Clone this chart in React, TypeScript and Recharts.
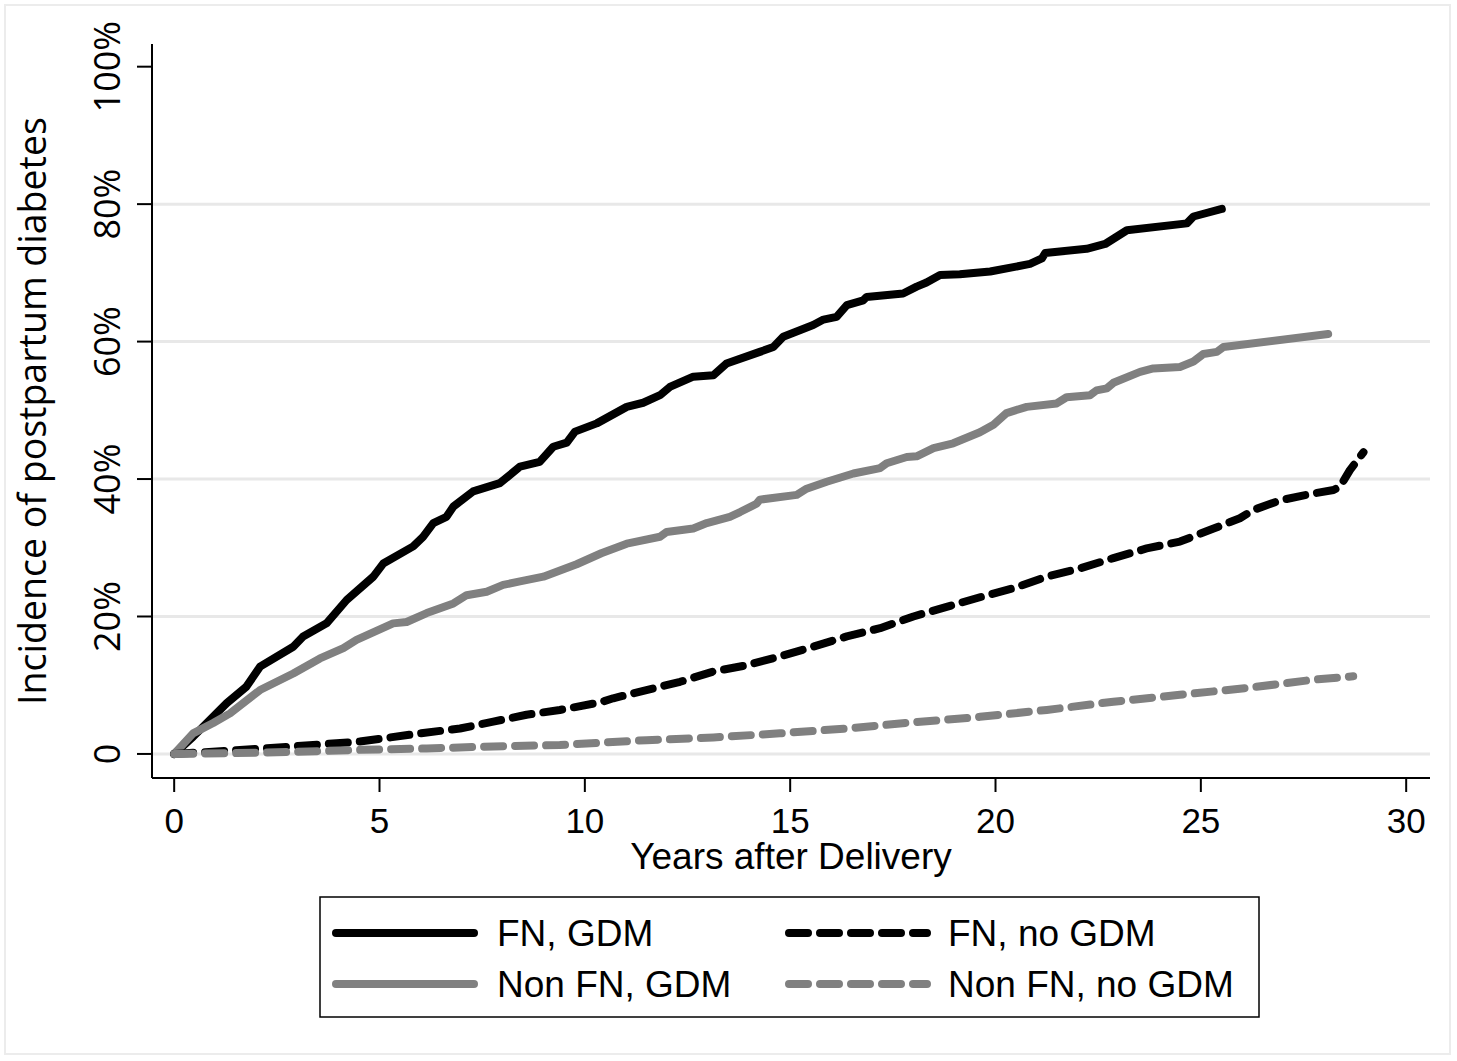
import { LineChart, Line, XAxis, YAxis, CartesianGrid } from 'recharts';

// years after delivery / cumulative incidence (%)
const fnGdmYears = [0, 0.46, 1.28, 1.76, 2.09, 2.9, 3.14, 3.71, 4.2, 4.85, 5.09, 5.82, 6.06, 6.31, 6.63, 6.8, 7.28, 7.93, 8.42, 8.9, 9.23, 9.56, 9.76, 10.29, 11.02, 11.42, 11.83, 12.07, 12.64, 13.13, 13.45, 14.26, 14.59, 14.83, 15.56, 15.81, 16.13, 16.38, 16.78, 16.86, 17.75, 18.08, 18.32, 18.65, 19.13, 19.87, 20.84, 21.13, 21.21, 22.22, 22.67, 23.2, 24.66, 24.82, 25.51];
const fnGdmPct = [0, 2.5, 7.4, 9.8, 12.7, 15.6, 17.1, 19, 22.4, 25.8, 27.7, 30.2, 31.6, 33.6, 34.5, 36, 38.2, 39.4, 41.8, 42.5, 44.7, 45.3, 46.9, 48.1, 50.5, 51.1, 52.2, 53.4, 54.9, 55.1, 56.8, 58.5, 59.2, 60.7, 62.4, 63.2, 63.6, 65.3, 66, 66.5, 67, 68, 68.6, 69.7, 69.8, 70.2, 71.3, 72.1, 72.9, 73.5, 74.2, 76.2, 77.2, 78.2, 79.3];

const nonFnGdmYears = [0, 0.46, 0.95, 1.36, 2.09, 2.9, 3.55, 4.12, 4.44, 5.33, 5.66, 6.15, 6.8, 7.12, 7.61, 8.01, 8.42, 8.99, 9.8, 10.4, 11.02, 11.83, 11.99, 12.64, 12.97, 13.53, 13.78, 14.18, 14.26, 15.16, 15.4, 15.89, 16.54, 17.19, 17.35, 17.84, 18.08, 18.49, 18.97, 19.62, 19.95, 20.27, 20.76, 21.49, 21.73, 22.3, 22.46, 22.71, 22.87, 23.52, 23.84, 24.49, 24.82, 25.06, 25.39, 25.55, 28.1];
const nonFnGdmPct = [0, 3, 4.5, 5.9, 9.3, 11.7, 13.9, 15.4, 16.6, 19, 19.2, 20.5, 21.9, 23.1, 23.6, 24.6, 25.1, 25.8, 27.6, 29.2, 30.6, 31.6, 32.3, 32.8, 33.6, 34.5, 35.2, 36.4, 37, 37.7, 38.6, 39.6, 40.8, 41.6, 42.3, 43.2, 43.3, 44.5, 45.2, 46.8, 47.9, 49.6, 50.5, 51, 51.9, 52.2, 52.9, 53.2, 54, 55.6, 56.1, 56.3, 57.1, 58.2, 58.5, 59.2, 61.1];

const fnNoGdmYears = [0, 1.44, 2.9, 4.52, 5.98, 6.96, 7.77, 8.58, 9.39, 10.37, 10.69, 11.5, 12.32, 13.13, 13.94, 14.75, 15.56, 16.38, 17.19, 18, 18.81, 19.62, 20.43, 21.25, 22.06, 22.87, 23.68, 24.49, 25.31, 25.95, 26.28, 26.93, 27.74, 28.23, 28.39, 28.63, 28.96];
const fnNoGdmPct = [0, 0.5, 1.1, 1.8, 3, 3.7, 4.7, 5.7, 6.4, 7.5, 8.1, 9.3, 10.5, 12, 12.9, 14.2, 15.6, 17.1, 18.3, 20, 21.4, 22.8, 24.1, 25.8, 27, 28.5, 29.9, 30.9, 32.8, 34.3, 35.5, 36.9, 37.9, 38.4, 38.9, 41.3, 43.9];

const nonFnNoGdmYears = [0, 1.28, 2.9, 4.52, 6.15, 7.77, 9.39, 11.5, 13.13, 14.75, 16.38, 18, 19.62, 21.25, 22.87, 24.49, 26.12, 27.74, 28.71];
const nonFnNoGdmPct = [0, 0.1, 0.3, 0.6, 0.8, 1.1, 1.3, 2, 2.4, 3, 3.7, 4.6, 5.4, 6.4, 7.6, 8.6, 9.6, 10.8, 11.3];

const xTicks = [0, 5, 10, 15, 20, 25, 30];
const yTicks = [0, 20, 40, 60, 80, 100];
const gridValues = [0, 20, 40, 60, 80];

const toRows = (years: number[], pct: number[]) => years.map((t, i) => ({ t, v: pct[i] }));

const series = [
  { name: 'FN, GDM', data: toRows(fnGdmYears, fnGdmPct), color: '#000000', dash: undefined },
  { name: 'Non FN, GDM', data: toRows(nonFnGdmYears, nonFnGdmPct), color: '#808080', dash: undefined },
  { name: 'FN, no GDM', data: toRows(fnNoGdmYears, fnNoGdmPct), color: '#000000', dash: '19 12' },
  { name: 'Non FN, no GDM', data: toRows(nonFnNoGdmYears, nonFnNoGdmPct), color: '#808080', dash: '19 12' },
];

const ARIAL = '"Liberation Sans", Arial, sans-serif';
const OPEN = '"Open Sans", "Noto Sans", sans-serif';

const YTick = ({ x, y, payload }: any) => (
  <text
    x={x}
    y={y}
    transform={`rotate(-90, ${x}, ${y})`}
    textAnchor="middle"
    fontFamily={OPEN}
    fontSize={36}
    fill="#000"
  >
    {payload.value === 0 ? '0' : `${payload.value}%`}
  </text>
);

const YTitle = ({ viewBox }: any) => {
  const cy = viewBox.y + viewBox.height / 2;
  return (
    <text x={46} y={cy} transform={`rotate(-90, 46, ${cy})`} textAnchor="middle" fontFamily={OPEN} fontSize={37.5} fill="#000">
      Incidence of postpartum diabetes
    </text>
  );
};

const XTitle = ({ viewBox }: any) => (
  <text x={viewBox.x + viewBox.width / 2} y={869} textAnchor="middle" fontFamily={ARIAL} fontSize={37} fill="#000">
    Years after Delivery
  </text>
);

function LegendBox() {
  const rows = [
    [series[0], series[2]],
    [series[1], series[3]],
  ];
  return (
    <svg width={941} height={122} style={{ position: 'absolute', left: 319, top: 896 }}>
      <rect x={1} y={1} width={939} height={120} fill="#fff" stroke="#000" strokeWidth={1.5} />
      {rows.map((row, r) =>
        row.map((s, c) => {
          const y = 37 + r * 51;
          const x0 = c === 0 ? 17 : 470;
          return (
            <g key={s.name}>
              <line x1={x0} x2={x0 + 138} y1={y} y2={y} stroke={s.color} strokeWidth={8} strokeLinecap="round" strokeDasharray={s.dash} />
              <text x={x0 + (c === 0 ? 161 : 159)} y={y + 13} fontFamily={ARIAL} fontSize={37} fill="#000">{s.name}</text>
            </g>
          );
        })
      )}
    </svg>
  );
}

export default function App() {
  return (
    <div style={{ position: 'absolute', left: 0, top: 0, width: 1457, height: 1061, background: '#fff' }}>
      <div style={{ position: 'absolute', left: 4, top: 4, width: 1447, height: 1051, border: '2px solid #ececec', boxSizing: 'border-box' }} />
      <LineChart width={1457} height={1061} margin={{ top: 44, right: 27, bottom: 0, left: 0 }}>
        <CartesianGrid vertical={false} horizontalValues={gridValues} stroke="#e8e8e8" strokeWidth={3} />
        <XAxis
          type="number"
          dataKey="t"
          domain={[-0.54, 30.58]}
          ticks={xTicks}
          height={283}
          tickSize={14}
          tickMargin={16}
          axisLine={{ stroke: '#000', strokeWidth: 2 }}
          tickLine={{ stroke: '#000', strokeWidth: 2 }}
          tick={{ fontSize: 35, fill: '#000', fontFamily: ARIAL }}
          label={<XTitle />}
        />
        <YAxis
          type="number"
          domain={[-3.5, 103.3]}
          ticks={yTicks}
          width={152}
          tickSize={15}
          tickMargin={17}
          axisLine={{ stroke: '#000', strokeWidth: 2 }}
          tickLine={{ stroke: '#000', strokeWidth: 2 }}
          tick={<YTick />}
          label={<YTitle />}
        />
        {series.map((s) => (
          <Line
            key={s.name}
            data={s.data}
            dataKey="v"
            type="linear"
            stroke={s.color}
            strokeWidth={8}
            strokeDasharray={s.dash}
            strokeLinecap="round"
            strokeLinejoin="round"
            dot={false}
            activeDot={false}
            isAnimationActive={false}
          />
        ))}
      </LineChart>
      <LegendBox />
    </div>
  );
}
